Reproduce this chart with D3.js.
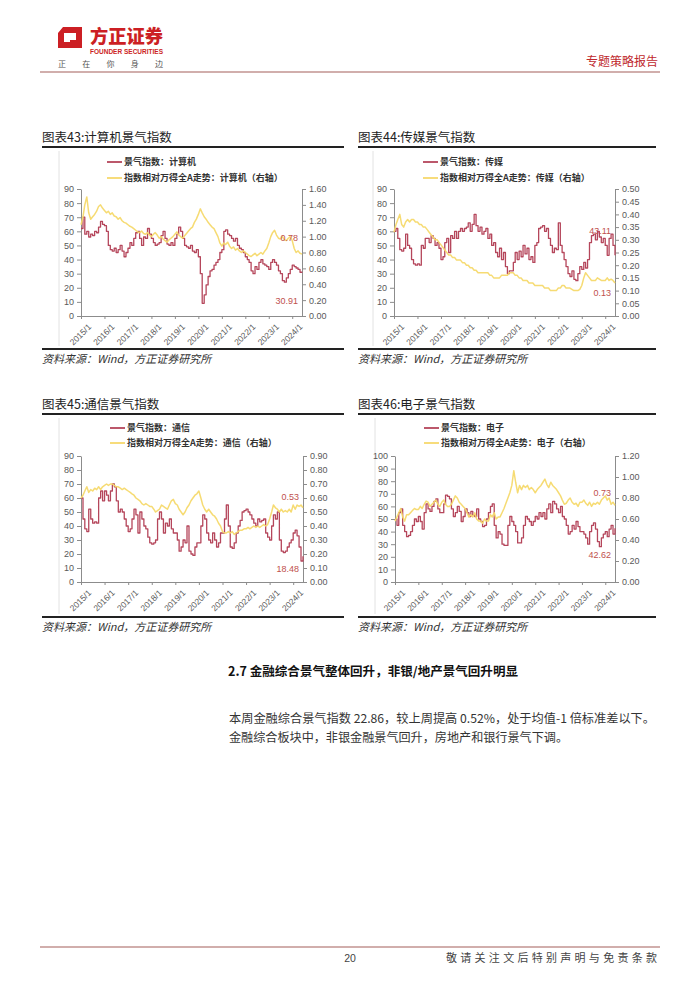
<!DOCTYPE html>
<html><head><meta charset="utf-8">
<script src="https://cdn.jsdelivr.net/npm/d3@7"></script>
<style>body{margin:0;background:#fff}svg{display:block}</style>
</head><body>
<svg id="page" width="700" height="990"></svg>
<script>
// ---------- data ----------
const months = d3.timeMonth.range(new Date(2015,0,1), new Date(2024,6,1)); // 2015/1 .. 2024/6
const yearTicks = [2015,2016,2017,2018,2019,2020,2021,2022,2023,2024];
const tickLabels = ["2015/1","2016/1","2017/1","2018/1","2019/1","2020/1","2021/1","2022/1","2023/1","2024/1"];

// 图表43 计算机
const jsjIndex = [
 62,70,58,60,56,58,57,60,59,63,67,65,
 64,60,50,47,46,48,45,47,50,46,42,45,
 48,52,50,55,59,60,55,50,56,55,62,58,
 55,52,50,51,52,57,60,55,51,50,52,50,
 55,58,63,60,55,50,49,48,50,46,45,47,
 42,30,9,15,22,28,32,33,36,38,40,45,
 47,60,61,58,57,55,53,55,50,48,47,45,
 42,40,38,32,30,35,33,38,40,37,36,35,
 33,38,40,38,36,32,30,25,24,27,30,33,
 36,35,34,33,31,30.91];
const jsjRel = [
 1.15,1.25,1.40,1.50,1.30,1.22,1.25,1.28,1.32,1.38,1.40,1.36,
 1.33,1.30,1.32,1.28,1.30,1.26,1.25,1.22,1.24,1.20,1.18,1.17,
 1.15,1.13,1.12,1.10,1.08,1.06,1.05,1.07,1.04,1.03,1.05,1.02,
 1.00,1.03,1.05,1.02,0.98,1.00,0.97,0.95,0.93,0.96,0.98,1.00,
 1.03,1.06,1.02,1.00,0.98,1.01,1.04,1.07,1.10,1.12,1.18,1.22,
 1.28,1.35,1.30,1.25,1.22,1.18,1.15,1.12,1.10,1.05,1.00,0.92,
 0.88,0.92,0.90,0.93,0.88,0.85,0.87,0.83,0.85,0.82,0.80,0.82,
 0.80,0.78,0.76,0.75,0.77,0.79,0.76,0.78,0.80,0.78,0.82,0.85,
 0.92,1.00,1.05,1.08,1.02,0.98,0.97,1.00,0.96,0.95,0.98,1.00,
 0.95,0.85,0.80,0.82,0.79,0.78];

// 图表44 传媒
const cmIndex = [
 60,62,55,47,46,48,58,50,48,40,37,36,
 37,36,50,48,55,55,52,57,55,50,52,48,
 40,42,52,55,45,57,55,60,55,60,62,60,
 62,63,66,60,65,72,64,60,63,58,60,62,
 55,58,50,52,45,42,48,40,45,35,30,32,
 32,38,45,40,46,42,50,44,48,40,42,38,
 50,52,62,63,64,60,62,55,50,45,48,47,
 66,50,45,40,35,30,28,32,26,25,30,35,
 33,38,34,40,52,57,58,54,60,56,52,55,
 50,43,55,58,50,43.11];
const cmRel = [
 0.33,0.36,0.38,0.40,0.36,0.35,0.37,0.38,0.37,0.38,0.38,0.37,
 0.37,0.36,0.36,0.35,0.35,0.34,0.33,0.32,0.31,0.30,0.30,0.29,
 0.28,0.27,0.26,0.25,0.24,0.24,0.23,0.23,0.22,0.22,0.22,0.21,
 0.21,0.20,0.20,0.19,0.19,0.18,0.18,0.17,0.17,0.17,0.17,0.17,
 0.17,0.16,0.16,0.15,0.15,0.15,0.15,0.16,0.16,0.16,0.16,0.17,
 0.17,0.17,0.16,0.16,0.15,0.15,0.14,0.14,0.14,0.13,0.13,0.13,
 0.12,0.12,0.12,0.12,0.12,0.11,0.11,0.11,0.10,0.10,0.10,0.10,
 0.11,0.11,0.12,0.12,0.11,0.11,0.11,0.105,0.10,0.10,0.10,0.105,
 0.12,0.15,0.17,0.16,0.15,0.14,0.14,0.14,0.15,0.145,0.14,0.14,
 0.14,0.15,0.14,0.145,0.14,0.13];

// 图表45 通信
const txIndex = [
 60,45,38,36,52,45,42,43,42,60,65,58,
 65,62,58,65,70,68,58,50,52,50,45,40,
 36,38,45,52,48,35,50,45,40,38,32,28,
 27,28,30,45,50,45,35,42,40,45,38,35,
 35,30,22,25,30,28,40,22,20,19,25,28,
 28,40,48,45,35,30,28,35,30,25,28,35,
 35,45,55,40,25,24,28,35,40,44,50,51,
 52,50,48,45,42,40,45,43,44,45,35,32,
 30,40,48,45,50,30,22,21,22,25,28,30,
 35,37,33,25,15,18.48];
const txRel = [
 0.60,0.62,0.65,0.68,0.64,0.66,0.65,0.67,0.66,0.68,0.66,0.68,
 0.69,0.70,0.69,0.70,0.70,0.69,0.68,0.68,0.67,0.66,0.67,0.66,
 0.65,0.64,0.63,0.62,0.60,0.59,0.58,0.56,0.55,0.56,0.55,0.54,
 0.54,0.52,0.50,0.51,0.52,0.55,0.54,0.53,0.52,0.55,0.58,0.59,
 0.56,0.55,0.52,0.50,0.48,0.50,0.53,0.55,0.58,0.60,0.62,0.63,
 0.65,0.60,0.55,0.52,0.50,0.52,0.50,0.48,0.47,0.45,0.42,0.40,
 0.36,0.35,0.35,0.36,0.35,0.36,0.34,0.35,0.36,0.37,0.37,0.38,
 0.38,0.39,0.38,0.39,0.40,0.39,0.40,0.39,0.40,0.41,0.40,0.41,
 0.45,0.50,0.55,0.53,0.52,0.50,0.52,0.50,0.51,0.50,0.52,0.50,
 0.55,0.52,0.55,0.54,0.55,0.53];

// 图表46 电子
const dzIndex = [
 50,45,55,58,45,40,36,37,40,45,50,48,
 52,48,42,55,62,58,56,60,64,66,58,55,
 55,62,69,68,66,58,52,55,60,56,48,52,
 58,55,52,56,53,52,58,50,48,44,45,50,
 55,60,62,45,35,40,38,30,29,29,45,52,
 48,45,40,31,31,35,45,52,50,48,45,48,
 52,50,55,52,55,50,58,62,55,64,62,58,
 55,60,52,50,45,38,40,45,42,48,44,40,
 40,38,35,30,40,45,47,42,32,28,35,38,
 40,36,42,45,38,42.62];
const dzRel = [
 0.58,0.62,0.66,0.70,0.62,0.58,0.64,0.64,0.66,0.68,0.70,0.69,
 0.69,0.72,0.70,0.74,0.77,0.76,0.72,0.74,0.76,0.78,0.74,0.72,
 0.76,0.78,0.74,0.72,0.72,0.74,0.78,0.82,0.80,0.76,0.74,0.72,
 0.70,0.66,0.62,0.64,0.62,0.66,0.60,0.58,0.58,0.56,0.60,0.58,
 0.58,0.64,0.62,0.66,0.60,0.62,0.62,0.66,0.70,0.75,0.80,0.85,
 0.92,1.06,0.95,0.85,0.92,0.88,0.92,0.90,0.92,0.88,0.90,0.88,
 0.85,0.88,0.90,0.92,0.95,0.98,0.93,0.90,0.95,0.92,0.90,0.88,
 0.85,0.82,0.78,0.74,0.75,0.78,0.80,0.76,0.74,0.75,0.72,0.76,
 0.76,0.78,0.75,0.73,0.76,0.72,0.75,0.74,0.76,0.74,0.78,0.80,
 0.82,0.78,0.80,0.74,0.76,0.73];

// ---------- drawing ----------
const RED = "#b5465b", YEL = "#f6d96c", LBL = "#c0504d";
const CJK = "'Noto Sans CJK SC','Noto Sans',sans-serif";
const NUM = "'Liberation Sans',Arial,sans-serif";
const svg = d3.select("#page");

// header
const hdr = svg.append("g");
hdr.append("path")
  .attr("d","M58,33 L63,27 L82,27 L82,48 L58,48 Z M64,33 L76,33 L76,40 L70,40 L70,42 L64,42 Z")
  .attr("fill","#cc1f24").attr("fill-rule","evenodd");
hdr.append("text").attr("x",90).attr("y",43).text("方正证券")
  .attr("font-family",CJK).attr("font-weight",900).attr("font-size",18.5).attr("fill","#cc1f24")
  .attr("textLength",73).attr("lengthAdjust","spacingAndGlyphs");
hdr.append("text").attr("x",90).attr("y",53.5).text("FOUNDER SECURITIES")
  .attr("font-family",NUM).attr("font-weight",700).attr("font-size",6.3).attr("fill","#cc1f24")
  .attr("textLength",73).attr("lengthAdjust","spacingAndGlyphs");
hdr.append("text").attr("x",58).attr("y",67).text("正在你身边")
  .attr("font-family",CJK).attr("font-size",8).attr("fill","#555")
  .attr("textLength",105).attr("lengthAdjust","spacing");
hdr.append("text").attr("x",658).attr("y",66).attr("text-anchor","end").text("专题策略报告")
  .attr("font-family",CJK).attr("font-size",12).attr("fill","#c0282d");
hdr.append("line").attr("x1",40).attr("x2",660).attr("y1",72).attr("y2",72)
  .attr("stroke","#a35e5a").attr("stroke-width",1.2);

function drawChart(c) {
  const g = svg.append("g");
  g.append("text").attr("x",c.left).attr("y",c.titleY).text(c.title)
    .attr("font-family",CJK).attr("font-size",12.5).attr("fill","#222");
  g.append("line").attr("x1",c.left).attr("x2",c.right).attr("y1",c.ruleY).attr("y2",c.ruleY)
    .attr("stroke","#222").attr("stroke-width",1.8);
  g.append("line").attr("x1",c.left).attr("x2",c.right).attr("y1",c.botY).attr("y2",c.botY)
    .attr("stroke","#222").attr("stroke-width",1.8);
  g.append("line").attr("x1",c.frameX).attr("x2",c.frameX).attr("y1",c.ruleY+4).attr("y2",c.botY-3)
    .attr("stroke","#e2e2e2").attr("stroke-width",1);
  g.append("text").attr("x",c.left).attr("y",c.botY+14).text("资料来源：Wind，方正证券研究所")
    .attr("font-family",CJK).attr("font-style","italic").attr("font-size",11).attr("fill","#333");

  // legend
  [[RED,c.leg1,c.legY[0]],[YEL,c.leg2,c.legY[1]]].forEach(([col,txt,ly])=>{
    g.append("line").attr("x1",c.legX).attr("x2",c.legX+15).attr("y1",ly).attr("y2",ly)
      .attr("stroke",col).attr("stroke-width",1.8);
    g.append("text").attr("x",c.legX+17).attr("y",ly+3.3).text(txt)
      .attr("font-family",CJK).attr("font-weight",600).attr("font-size",9).attr("fill","#333");
  });

  const x = d3.scaleTime().domain([months[0], months[months.length-1]]).range([c.x0, c.x1]);
  const yl = d3.scaleLinear().domain([0,c.lmax]).range([c.yB, c.yT]);
  const yr = d3.scaleLinear().domain([0,c.rmax]).range([c.yB, c.yT]);

  const styleAxis = (sel)=>{
    sel.selectAll(".domain").attr("stroke","#8c8c8c");
    sel.selectAll(".tick line").attr("stroke","#8c8c8c");
    sel.selectAll("text").attr("font-family",NUM).attr("font-size",9).attr("fill","#595959");
  };
  const la = g.append("g").attr("transform",`translate(${c.x0},0)`)
    .call(d3.axisLeft(yl).tickValues(d3.range(0,c.lmax+0.001,10)).tickSize(4).tickPadding(3).tickSizeOuter(0));
  styleAxis(la);
  const ra = g.append("g").attr("transform",`translate(${c.x1},0)`)
    .call(d3.axisRight(yr).tickValues(d3.range(0,c.rmax+1e-6,c.rstep)).tickFormat(d3.format(".2f"))
      .tickSize(4).tickPadding(3).tickSizeOuter(0));
  styleAxis(ra);
  const ba = g.append("g").attr("transform",`translate(0,${c.yB})`)
    .call(d3.axisBottom(x).tickValues(yearTicks.map(y=>new Date(y,0,1)))
      .tickFormat((d,i)=>tickLabels[i]).tickSize(3).tickSizeOuter(0));
  styleAxis(ba);
  ba.selectAll("text").attr("font-size",8.5).attr("text-anchor","end")
    .attr("transform","translate(3,3) rotate(-45)").attr("dy","0.6em").attr("dx","-0.1em");

  const redLine = d3.line().x((d,i)=>x(months[i])).y(d=>yl(d)).curve(d3.curveStepAfter);
  const yelLine = d3.line().x((d,i)=>x(months[i])).y(d=>yr(d));
  g.append("path").attr("d",redLine(c.red)).attr("fill","none").attr("stroke",RED).attr("stroke-width",1.3)
    .attr("stroke-linejoin","round");
  g.append("path").attr("d",yelLine(c.yel)).attr("fill","none").attr("stroke",YEL).attr("stroke-width",1.5)
    .attr("stroke-linejoin","round").attr("opacity",0.95);

  c.labels.forEach(l=>{
    g.append("text").attr("x",c.x1-4).attr("y",l.y).attr("text-anchor","end").text(l.t)
      .attr("font-family",NUM).attr("font-size",9).attr("fill",LBL);
  });
}

drawChart({title:"图表43:计算机景气指数", left:42, right:344, titleY:142, ruleY:147, botY:349, frameX:59,
  legX:107, legY:[162,178], leg1:"景气指数：计算机", leg2:"指数相对万得全A走势：计算机（右轴）",
  x0:81, x1:302, yT:189, yB:316, lmax:90, rmax:1.6, rstep:0.2,
  red:jsjIndex, yel:jsjRel, labels:[{t:"0.78",y:241},{t:"30.91",y:304}]});
drawChart({title:"图表44:传媒景气指数", left:358, right:656, titleY:142, ruleY:147, botY:349, frameX:373,
  legX:423, legY:[162,178], leg1:"景气指数：传媒", leg2:"指数相对万得全A走势：传媒（右轴）",
  x0:394, x1:615, yT:189, yB:316, lmax:90, rmax:0.5, rstep:0.05,
  red:cmIndex, yel:cmRel, labels:[{t:"43.11",y:234},{t:"0.13",y:296}]});
drawChart({title:"图表45:通信景气指数", left:42, right:344, titleY:409, ruleY:414, botY:617, frameX:59,
  legX:110, legY:[428,443], leg1:"景气指数：通信", leg2:"指数相对万得全A走势：通信（右轴）",
  x0:81, x1:303, yT:456, yB:582, lmax:90, rmax:0.9, rstep:0.1,
  red:txIndex, yel:txRel, labels:[{t:"0.53",y:500},{t:"18.48",y:572}]});
drawChart({title:"图表46:电子景气指数", left:358, right:656, titleY:409, ruleY:414, botY:617, frameX:375,
  legX:424, legY:[428,443], leg1:"景气指数：电子", leg2:"指数相对万得全A走势：电子（右轴）",
  x0:395, x1:615, yT:456, yB:582, lmax:100, rmax:1.2, rstep:0.2,
  red:dzIndex, yel:dzRel, labels:[{t:"0.73",y:496},{t:"42.62",y:558}]});

// text section
const ts = svg.append("g").attr("font-family",CJK);
ts.append("text").attr("x",228).attr("y",676).text("2.7 金融综合景气整体回升，非银/地产景气回升明显")
  .attr("font-weight",700).attr("font-size",12.5).attr("fill","#111")
  .attr("textLength",290).attr("lengthAdjust","spacingAndGlyphs");
ts.append("text").attr("x",229).attr("y",723).text("本周金融综合景气指数 22.86，较上周提高 0.52%，处于均值-1 倍标准差以下。")
  .attr("font-size",12).attr("fill","#333").attr("textLength",426).attr("lengthAdjust","spacingAndGlyphs");
ts.append("text").attr("x",229).attr("y",742).text("金融综合板块中，非银金融景气回升，房地产和银行景气下调。")
  .attr("font-size",12).attr("fill","#333").attr("textLength",339).attr("lengthAdjust","spacingAndGlyphs");

// footer
svg.append("line").attr("x1",40).attr("x2",660).attr("y1",947).attr("y2",947)
  .attr("stroke","#a35e5a").attr("stroke-width",1.2);
svg.append("text").attr("x",350).attr("y",962).attr("text-anchor","middle").text("20")
  .attr("font-family",NUM).attr("font-size",10.5).attr("fill","#444");
svg.append("text").attr("x",446).attr("y",962).text("敬请关注文后特别声明与免责条款")
  .attr("font-family",CJK).attr("font-size",11).attr("fill","#444")
  .attr("textLength",211).attr("lengthAdjust","spacing");
</script>
</body></html>
